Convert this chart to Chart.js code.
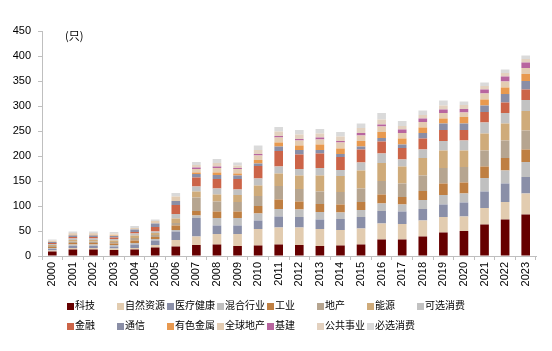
<!DOCTYPE html>
<html>
<head>
<meta charset="utf-8">
<script src="https://cdn.jsdelivr.net/npm/chart.js@4.4.1/dist/chart.umd.min.js"></script>
<style>
    body { margin: 0; background: #fff; }
    #wrap { position: relative; width: 552px; height: 351px; }
    #unit { position: absolute; left: 65px; top: 27px; font: 11px "Noto Sans CJK SC"; color: #000; }
    .item { position: absolute; font: 10px "Noto Sans CJK SC"; color: #000; white-space: nowrap; line-height: 12px; }
    .item i { display: inline-block; width: 7px; height: 7px; margin-right: 1px; vertical-align: -0.5px; }
</style>
</head>
<body>
<div id="wrap">
    <canvas id="chart" width="552" height="351"></canvas>
    <div id="unit">(只)</div>
    <div id="legend"></div>
</div>
<script>
// categories
const years = ['2000','2001','2002','2003','2004','2005','2006','2007','2008','2009','2010','2011',
               '2012','2013','2014','2015','2016','2017','2018','2019','2020','2021','2022','2023'];

// series values (只), bottom of stack first
const tech        = [9, 13, 13, 12, 13, 17, 19, 22, 23, 20, 21, 23, 22, 20, 21, 23, 33, 33, 39, 47, 50, 63, 73, 83];
const resources   = [2, 3, 3, 3, 3, 5, 13, 17, 21, 24, 33, 34, 35, 34, 31, 32, 32, 31, 32, 31, 29, 33, 35, 42];
const healthcare  = [3, 4, 4, 4, 7, 9, 17, 37, 17, 17, 17, 22, 21, 19, 22, 23, 25, 25, 23, 25, 28, 33, 37, 33];
const mixed       = [2, 3, 3, 3, 3, 3, 3, 5, 15, 15, 14, 15, 15, 15, 13, 14, 15, 14, 18, 19, 18, 27, 26, 30];
const industrial  = [2, 3, 3, 3, 5, 4, 9, 9, 13, 13, 15, 19, 16, 16, 16, 16, 18, 15, 18, 23, 22, 23, 25, 25];
const realEstate  = [2, 3, 3, 3, 5, 4, 5, 27, 20, 19, 20, 27, 25, 25, 25, 27, 27, 27, 31, 31, 31, 32, 35, 38];
const energy      = [2, 3, 3, 3, 5, 4, 9, 12, 14, 14, 21, 25, 27, 32, 32, 36, 36, 34, 35, 35, 33, 34, 34, 39];
const consDisc    = [2, 3, 3, 3, 4, 3, 9, 10, 12, 11, 14, 14, 13, 15, 12, 16, 19, 14, 17, 19, 20, 22, 21, 22];
const finance     = [2, 3, 3, 3, 3, 9, 18, 18, 19, 21, 25, 31, 29, 29, 26, 26, 24, 23, 22, 22, 21, 21, 21, 21];
const telecom     = [2, 3, 3, 3, 5, 7, 8, 7, 8, 7, 5, 9, 9, 7, 6, 6, 7, 7, 11, 13, 13, 13, 17, 17];
const metals      = [0, 1, 1, 1, 0, 0, 0, 3, 5, 4, 7, 8, 9, 11, 11, 11, 12, 12, 11, 10, 13, 12, 13, 14];
const globalRE    = [2, 2, 2, 2, 3, 5, 9, 7, 9, 9, 9, 10, 10, 10, 12, 11, 11, 11, 11, 11, 9, 12, 12, 12];
const infra       = [0, 0, 0, 0, 0, 0, 0, 3, 3, 2, 3, 3, 3, 4, 3, 5, 4, 7, 7, 7, 7, 8, 10, 11];
const utilities   = [1, 2, 2, 2, 0, 0, 0, 5, 7, 5, 8, 9, 9, 8, 9, 10, 10, 7, 7, 8, 8, 7, 7, 7];
const consStaples = [2, 3, 3, 3, 4, 3, 7, 6, 8, 6, 9, 9, 9, 9, 9, 9, 13, 10, 9, 10, 7, 7, 7, 7];

const seriesNames = ['科技', '自然资源', '医疗健康', '混合行业', '工业', '地产', '能源', '可选消费',
                     '金融', '通信', '有色金属', '全球地产', '基建', '公共事业', '必选消费'];
const seriesData = [tech, resources, healthcare, mixed, industrial, realEstate, energy, consDisc,
                    finance, telecom, metals, globalRE, infra, utilities, consStaples];
const seriesColors = ['#660000', '#E2CCB0', '#8A8FA8', '#C0C0C0', '#BF7F42', '#B6A590', '#CFAB7A', '#C2C2C2',
                      '#CC6448', '#8A8EA6', '#E8994F', '#E3CCB2', '#B8659F', '#E3D1BF', '#DADADA'];

const yTicks = [0, 50, 100, 150, 200, 250, 300, 350, 400, 450];

const axisColor = '#bfbfbf';
const tickFont = { family: '"Liberation Sans", Arial', size: 11 };

const datasets = seriesNames.map((name, i) => ({
    label: name,
    data: seriesData[i],
    backgroundColor: seriesColors[i],
    borderWidth: 0,
    categoryPercentage: 1,
    barPercentage: 0.42
}));

new Chart(document.getElementById('chart'), {
    type: 'bar',
    data: { labels: years, datasets: datasets },
    options: {
        responsive: false,
        animation: false,
        devicePixelRatio: 1,
        layout: { padding: { top: 31, right: 16, left: 0, bottom: 0 } },
        plugins: { legend: { display: false }, tooltip: { enabled: false } },
        scales: {
            x: {
                stacked: true,
                grid: { offset: true, drawOnChartArea: false, tickLength: 4, color: axisColor },
                border: { color: axisColor },
                ticks: { minRotation: 90, maxRotation: 90, padding: 2, color: '#000', font: tickFont, autoSkip: false },
                afterFit: s => { s.height = 95; }
            },
            y: {
                stacked: true,
                min: yTicks[0],
                max: yTicks[yTicks.length - 1],
                afterBuildTicks: s => { s.ticks = yTicks.map(v => ({ value: v })); },
                grid: { drawOnChartArea: false, tickLength: 4, color: axisColor },
                border: { color: axisColor },
                ticks: { padding: 7, color: '#000', font: tickFont },
                afterFit: s => { s.width = 42; }
            }
        }
    }
});

// legend: 8 items in the first row, 7 in the second, on a 50px grid
const legend = document.getElementById('legend');
seriesNames.forEach((name, i) => {
    const row = i < 8 ? 0 : 1;
    const col = i < 8 ? i : i - 8;
    const el = document.createElement('div');
    el.className = 'item';
    el.style.left = (67 + col * 50) + 'px';
    el.style.top = (299 + row * 20) + 'px';
    el.innerHTML = `<i style="background:${seriesColors[i]}"></i>${name}`;
    legend.appendChild(el);
});
</script>
</body>
</html>
